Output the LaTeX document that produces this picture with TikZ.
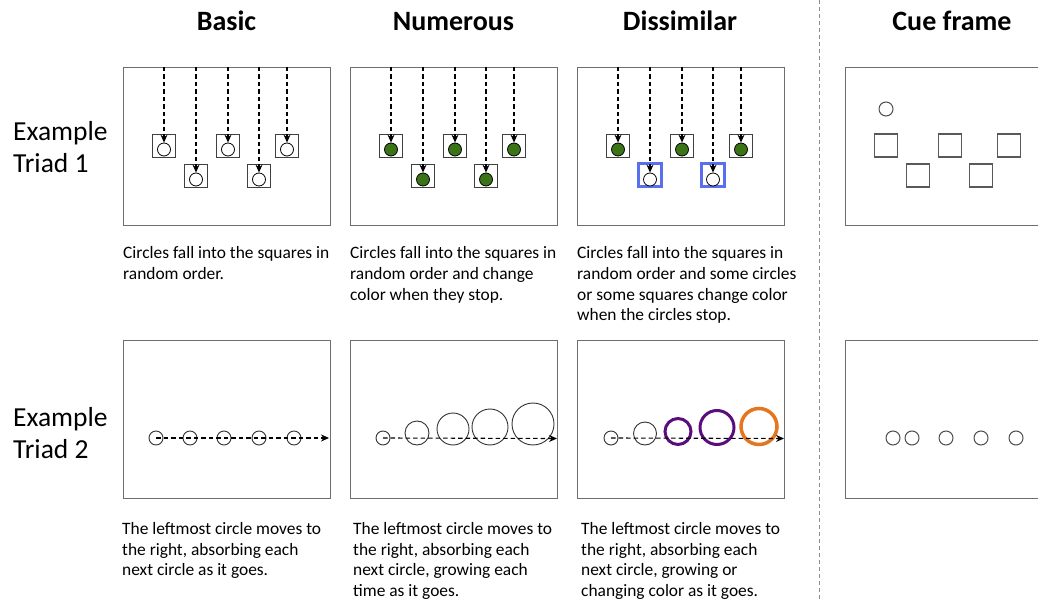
\documentclass[tikz,border=0pt]{standalone}
\usepackage{fontspec}
\setmainfont{Carlito}
\usetikzlibrary{arrows.meta}
\definecolor{framegray}{HTML}{6E6E6E}
\definecolor{cgreen}{HTML}{3A7417}
\definecolor{sqblue}{HTML}{5A6EF0}
\definecolor{cpurple}{HTML}{5B0D7E}
\definecolor{corange}{HTML}{E3761E}
\tikzset{
  panel/.style={draw=framegray, line width=1.3pt, rectangle, minimum width=207pt, minimum height=158pt, anchor=north west, inner sep=0},
  sq/.style={rectangle, draw=black!75, line width=0.9pt, minimum size=23pt, inner sep=0},
  cuesq/.style={sq, draw=black!65, line width=1.1pt},
  bluesq/.style={sq, draw=sqblue, line width=3pt},
  ball/.style={circle, draw=black, line width=0.8pt, minimum size=13pt, inner sep=0},
  greenball/.style={ball, fill=cgreen},
  whiteball/.style={ball, fill=white},
  ring/.style={circle, draw=black!80, line width=0.9pt, inner sep=0},
  cuering/.style={circle, draw=black!70, line width=1pt, minimum size=14pt, inner sep=0},
  fall/.style={dash pattern=on 4.5pt off 3pt, line width=1.1pt, -{Stealth[length=8pt,width=7pt]}},
  heading/.style={font=\fontsize{28}{32}\selectfont\bfseries, anchor=base, inner sep=0},
  rowlabel/.style={font=\fontsize{27.5}{32}\selectfont, anchor=base west, inner sep=0},
  caption/.style={anchor=base west, inner sep=0, font=\fontsize{17.4}{20.6}\selectfont}
}
\begin{document}
\begin{tikzpicture}[x=1pt, y=-1pt]
\useasboundingbox (0,0) rectangle (1038,601);
\clip (0,0) rectangle (1038,601);
\fill[white] (0,0) rectangle (1038,601);

% headings
\node[heading] (hBasic) at (226.5,31) {Basic};
\node[heading] (hNum) at (453.5,31) {Numerous};
\node[heading] (hDis) at (680,31) {Dissimilar};
\node[heading] (hCue) at (952,31) {Cue frame};

% separator
\coordinate (sepT) at (819,0);
\coordinate (sepB) at (819,601);
\draw[black!45, line width=0.7pt, dash pattern=on 4pt off 3pt] (sepT) -- (sepB);

% row labels
\node[rowlabel] (lab1) at (13,141) {\parbox[t]{110pt}{Example\\Triad 1}};
\node[rowlabel] (lab2) at (13,426) {\parbox[t]{110pt}{Example\\Triad 2}};

% ---------- Row 1 panels ----------
\foreach \L/\p in {123/a, 350/b, 577/c, 845/d}
  \node[panel] (\p-frame) at (\L,67) {};

% Basic
\foreach \dx/\dy [count=\i] in {41/145.5, 73/175.5, 105/145.5, 136/175.5, 164/145.5} {
  \node[sq] (a-s\i) at (123+\dx,\dy) {};
  \node[ball] (a-b\i) at (123+\dx,\dy+4) {};
  \coordinate (a-t\i) at (123+\dx,67);
  \draw[fall] (a-t\i) -- (a-b\i.north);
}
% Numerous
\foreach \dx/\dy [count=\i] in {41/145.5, 73/175.5, 105/145.5, 136/175.5, 164/145.5} {
  \node[sq] (b-s\i) at (350+\dx,\dy) {};
  \node[greenball] (b-b\i) at (350+\dx,\dy+4) {};
  \coordinate (b-t\i) at (350+\dx,67);
  \draw[fall] (b-t\i) -- (b-b\i.north);
}
% Dissimilar
\foreach \dx/\dy/\sst/\bst [count=\i] in {41/145.5/sq/greenball, 73/175.5/bluesq/whiteball, 105/145.5/sq/greenball, 136/175.5/bluesq/whiteball, 164/145.5/sq/greenball} {
  \node[\sst] (c-s\i) at (577+\dx,\dy) {};
  \node[\bst] (c-b\i) at (577+\dx,\dy+4) {};
  \coordinate (c-t\i) at (577+\dx,67);
  \draw[fall] (c-t\i) -- (c-b\i.north);
}
% Cue frame 1
\foreach \dx/\dy [count=\i] in {41/145.5, 73/175.5, 105/145.5, 136/175.5, 164/145.5}
  \node[cuesq] (d-s\i) at (845+\dx,\dy) {};
\node[cuering] (d-ball) at (886,109) {};

% ---------- Row 2 panels ----------
\foreach \L/\p in {123/e, 350/f, 577/g, 845/h}
  \node[panel] (\p-frame) at (\L,340) {};

% Basic
\foreach \dx [count=\i] in {33, 67, 101, 136, 171}
  \node[ring, minimum size=14pt] (e-c\i) at (123+\dx,438) {};
\coordinate (e-end) at (329,438);
\draw[fall] (e-c1.center) -- (e-end);

% Numerous
\foreach \dx/\r [count=\i] in {33/7, 67/12, 103/16, 140/18, 183/21}
  \node[ring, minimum size=2*\r pt] (f-c\i) at (350+\dx,445-\r) {};
\coordinate (f-end) at (557,438.5);
\draw[fall] (f-c1.center) -- (f-end);

% Dissimilar
\node[ring, minimum size=14pt] (g-c1) at (611,438) {};
\node[ring, minimum size=23pt] (g-c2) at (645,433.5) {};
\node[circle, draw=cpurple, line width=3pt, minimum size=26pt, inner sep=0] (g-c3) at (678,431.5) {};
\node[circle, draw=cpurple, line width=3pt, minimum size=34pt, inner sep=0] (g-c4) at (717,427.5) {};
\node[circle, draw=corange, line width=3.5pt, minimum size=36pt, inner sep=0] (g-c5) at (759,426.5) {};
\coordinate (g-end) at (784,438.5);
\draw[fall] (g-c1.center) -- (g-end);

% Cue frame 2
\foreach \x [count=\i] in {893, 912, 946, 981, 1016}
  \node[cuering] (h-c\i) at (\x,438) {};

% ---------- captions ----------
\node[caption] (capA) at (123,259) {\parbox[t]{240pt}{Circles fall into the squares in\\random order.}};
\node[caption] (capB) at (350,259) {\parbox[t]{240pt}{Circles fall into the squares in\\random order and change\\color when they stop.}};
\node[caption] (capC) at (577,259) {\parbox[t]{240pt}{Circles fall into the squares in\\random order and some circles\\or some squares change color\\when the circles stop.}};
\node[caption] (capE) at (122,534.5) {\parbox[t]{240pt}{The leftmost circle moves to\\the right, absorbing each\\next circle as it goes.}};
\node[caption] (capF) at (353,534.5) {\parbox[t]{240pt}{The leftmost circle moves to\\the right, absorbing each\\next circle, growing each\\time as it goes.}};
\node[caption] (capG) at (581,534.5) {\parbox[t]{240pt}{The leftmost circle moves to\\the right, absorbing each\\next circle, growing or\\changing color as it goes.}};
\end{tikzpicture}
\end{document}
